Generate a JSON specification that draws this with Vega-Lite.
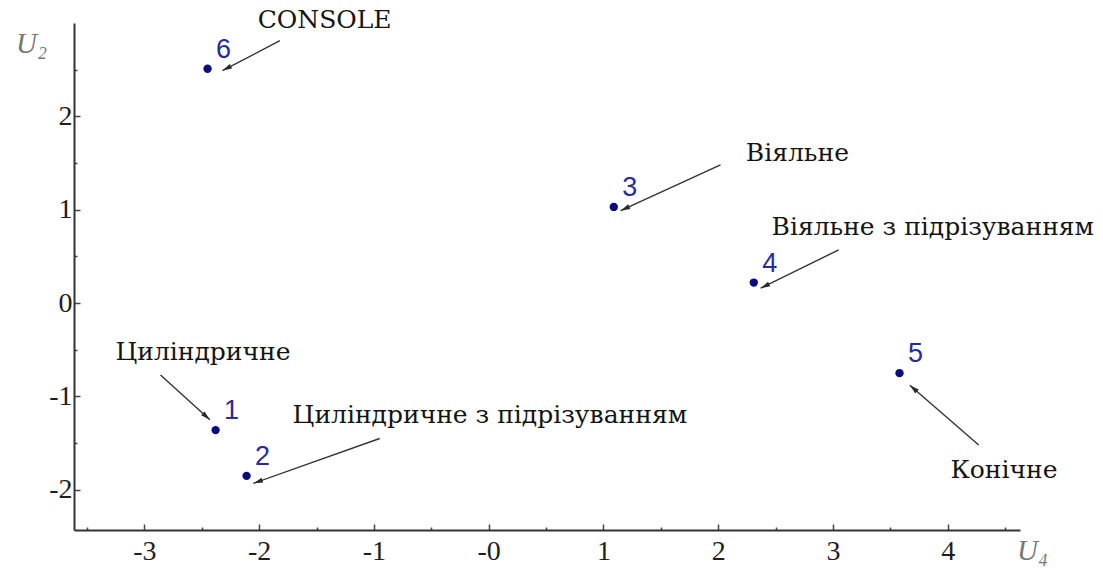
{
  "$schema": "https://vega.github.io/schema/vega-lite/v6.json",
  "autosize": {"type": "none"},
  "padding": {"left": 74, "top": 23, "right": 83, "bottom": 43},
  "width": 946,
  "height": 507,
  "background": "white",
  "config": {
    "view": {"stroke": null},
    "axis": {
      "grid": false,
      "domainColor": "#333333",
      "domainWidth": 2,
      "tickColor": "#444444",
      "tickWidth": 1.5,
      "labelFont": "Liberation Serif",
      "labelFontSize": 28,
      "labelColor": "#1e1e1e",
      "labelOverlap": false,
      "labelFlush": false,
      "titleFont": "Liberation Serif",
      "titleFontStyle": "italic",
      "titleFontWeight": "normal",
      "titleFontSize": 29,
      "titleColor": "#777777"
    }
  },
  "data": {
    "values": [
      {"id": "1", "u4": -2.38, "u2": -1.36, "name": "Циліндричне", "tx": -2.49, "ty": -0.52, "ax": -2.86, "ay": -0.77, "hx": -2.43, "hy": -1.25},
      {"id": "2", "u4": -2.11, "u2": -1.85, "name": "Циліндричне з підрізуванням", "tx": 0.01, "ty": -1.2, "ax": -0.95, "ay": -1.45, "hx": -2.05, "hy": -1.93},
      {"id": "3", "u4": 1.09, "u2": 1.03, "name": "Віяльне", "tx": 2.69, "ty": 1.61, "ax": 2.02, "ay": 1.48, "hx": 1.15, "hy": 0.99},
      {"id": "4", "u4": 2.31, "u2": 0.22, "name": "Віяльне з підрізуванням", "tx": 3.87, "ty": 0.82, "ax": 3.05, "ay": 0.57, "hx": 2.37, "hy": 0.16},
      {"id": "5", "u4": 3.58, "u2": -0.75, "name": "Конічне", "tx": 4.49, "ty": -1.79, "ax": 4.27, "ay": -1.52, "hx": 3.67, "hy": -0.88},
      {"id": "6", "u4": -2.45, "u2": 2.51, "name": "CONSOLE", "tx": -1.43, "ty": 3.03, "ax": -1.82, "ay": 2.81, "hx": -2.32, "hy": 2.49}
    ]
  },
  "transform": [
    {"calculate": "atan2((datum.hx - datum.ax) * 114.75, (datum.hy - datum.ay) * 93.4) * 180 / PI", "as": "heading"}
  ],
  "layer": [
    {
      "mark": {"type": "rule", "color": "#333333", "strokeWidth": 1.4},
      "encoding": {
        "x": {
          "field": "ax", "type": "quantitative",
          "scale": {"domain": [-3.614, 4.63], "nice": false, "zero": false},
          "axis": {
            "title": "U₄",
            "titleX": 958, "titleY": 20, "titleAlign": "center", "titleBaseline": "middle",
            "values": [-3.5, -3, -2.5, -2, -1.5, -1, -0.5, 0, 0.5, 1, 1.5, 2, 2.5, 3, 3.5, 4, 4.5],
            "tickSize": {"condition": {"test": "datum.value % 1 !== 0", "value": -3}, "value": -6},
            "labelFontSize": 28,
            "labelPadding": 13,
            "labelExpr": "datum.value % 1 !== 0 ? '' : (datum.value === 0 ? '-0' : '' + datum.value)"
          }
        },
        "y": {
          "field": "ay", "type": "quantitative",
          "scale": {"domain": [-2.43, 3.0], "nice": false, "zero": false},
          "axis": {
            "title": "U₂",
            "titleAngle": 0, "titleX": -43, "titleY": 20, "titleAlign": "center", "titleBaseline": "middle",
            "values": [-2, -1.5, -1, -0.5, 0, 0.5, 1, 1.5, 2, 2.5],
            "tickSize": {"condition": {"test": "datum.value % 1 !== 0", "value": -3}, "value": -6},
            "labelFontSize": 28,
            "labelPadding": 8,
            "labelExpr": "datum.value % 1 !== 0 ? '' : '' + datum.value"
          }
        },
        "x2": {"field": "hx"},
        "y2": {"field": "hy"}
      }
    },
    {
      "mark": {"type": "point", "shape": "M0,0L-0.55,2L0.55,2Z", "filled": true, "color": "#2a2a2a", "opacity": 1, "size": 90},
      "encoding": {
        "x": {"field": "hx", "type": "quantitative"},
        "y": {"field": "hy", "type": "quantitative"},
        "angle": {"field": "heading", "type": "quantitative", "scale": null}
      }
    },
    {
      "mark": {"type": "circle", "color": "#0b0b80", "opacity": 1, "size": 70},
      "encoding": {
        "x": {"field": "u4", "type": "quantitative"},
        "y": {"field": "u2", "type": "quantitative"}
      }
    },
    {
      "mark": {"type": "text", "font": "Liberation Sans", "fontSize": 27, "color": "#2a2a9c", "dx": 16, "dy": -19, "align": "center", "baseline": "middle"},
      "encoding": {
        "x": {"field": "u4", "type": "quantitative"},
        "y": {"field": "u2", "type": "quantitative"},
        "text": {"field": "id"}
      }
    },
    {
      "mark": {"type": "text", "font": "DejaVu Serif", "fontSize": 25, "color": "#141414", "align": "center", "baseline": "middle"},
      "encoding": {
        "x": {"field": "tx", "type": "quantitative"},
        "y": {"field": "ty", "type": "quantitative"},
        "text": {"field": "name"}
      }
    }
  ]
}
